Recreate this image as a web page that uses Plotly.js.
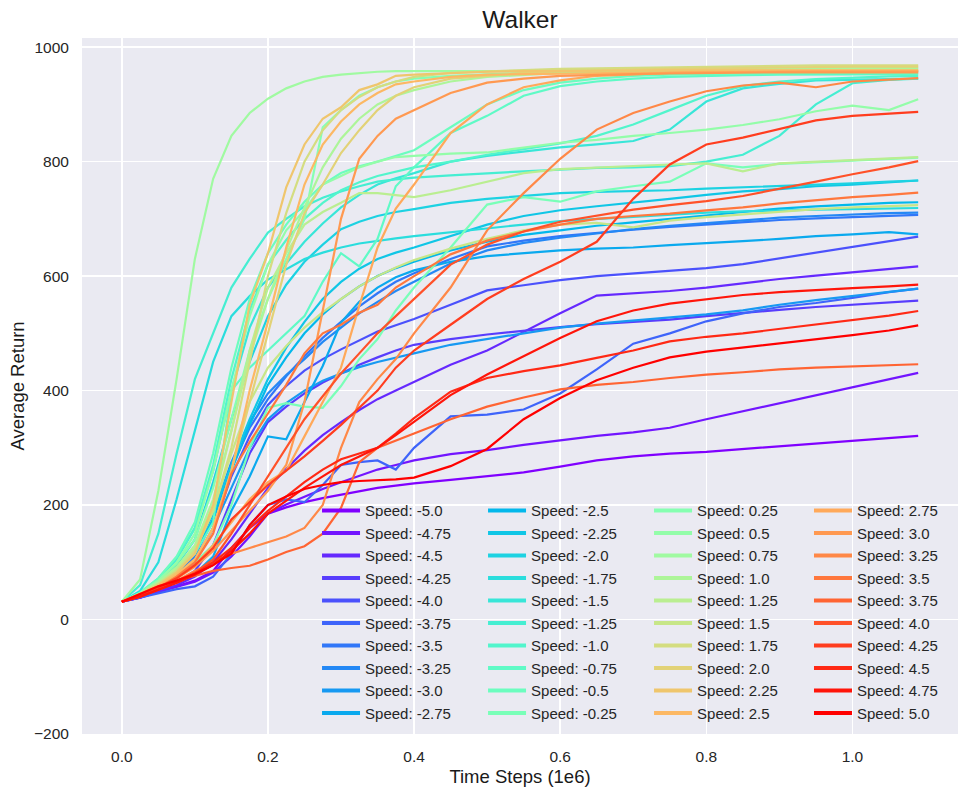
<!DOCTYPE html>
<html>
<head>
<meta charset="utf-8">
<script src="https://cdn.plot.ly/plotly-3.0.1.min.js"></script>
<style>
  html, body { margin: 0; padding: 0; background: #fff; }
  #chart { width: 969px; height: 796px; }
</style>
</head>
<body>
<div id="chart"></div>
<script>
// time steps (1e6)
const steps = [0, 0.025, 0.05, 0.075, 0.1, 0.125, 0.15, 0.175, 0.2, 0.225, 0.25, 0.275, 0.3, 0.325, 0.35, 0.375, 0.4, 0.45, 0.5, 0.55, 0.6, 0.65, 0.7, 0.75, 0.8, 0.85, 0.9, 0.95, 1.0, 1.05, 1.09];

const speedLabels = ['-5.0', '-4.75', '-4.5', '-4.25', '-4.0', '-3.75', '-3.5', '-3.25', '-3.0', '-2.75',
  '-2.5', '-2.25', '-2.0', '-1.75', '-1.5', '-1.25', '-1.0', '-0.75', '-0.5', '-0.25',
  '0.25', '0.5', '0.75', '1.0', '1.25', '1.5', '1.75', '2.0', '2.25', '2.5',
  '2.75', '3.0', '3.25', '3.5', '3.75', '4.0', '4.25', '4.5', '4.75', '5.0'];

// average return per speed
const retM500 = [31,38,48,58,68,85,125,160,185,196,205,212,218,224,230,234,238,244,250,257,267,278,285,290,293,298,303,308,313,317,321];
const retM475 = [31,38,48,57,66,82,110,145,185,201,215,228,240,251,262,270,278,289,296,305,313,321,327,335,350,364,378,393,407,421,431];
const retM450 = [31,39,50,60,75,100,140,185,230,263,295,322,345,366,385,400,415,445,470,503,535,566,570,574,580,588,595,601,607,612,617];
const retM425 = [31,40,52,65,85,130,210,290,345,372,395,414,430,445,458,470,480,490,498,505,511,516,520,524,530,536,541,546,550,554,557];
const retM400 = [31,40,55,72,100,160,250,320,375,408,435,455,472,488,503,514,525,550,575,584,593,600,605,609,614,621,631,641,650,660,669];
const retM375 = [31,38,46,53,58,75,115,165,200,210,205,235,270,275,278,262,300,355,358,367,395,437,482,500,521,535,546,553,562,572,578];
const retM350 = [31,42,58,80,110,175,265,335,385,425,460,492,520,547,570,590,605,630,652,662,670,676,681,686,690,695,698,701,703,705,707];
const retM325 = [31,43,60,85,120,185,275,345,395,427,455,485,510,535,555,574,590,622,645,658,667,675,682,688,693,698,702,705,708,710,711];
const retM300 = [31,42,58,78,105,160,230,300,350,378,400,417,430,441,450,458,465,480,490,500,510,517,522,527,533,540,550,558,565,572,578];
const retM275 = [31,40,52,65,80,110,190,250,320,315,380,443,519,555,580,598,610,625,635,640,645,648,650,654,657,661,665,670,673,677,673];
const retM250 = [31,42,58,82,115,175,260,340,410,458,500,533,560,582,600,614,625,645,660,672,680,688,694,700,706,712,718,722,725,728,729];
const retM225 = [31,42,60,85,120,185,270,350,420,475,520,560,590,613,630,641,650,670,690,705,715,722,728,735,742,748,752,757,760,764,767];
const retM200 = [31,45,65,95,140,240,350,450,530,585,625,655,682,695,705,712,717,728,735,740,745,747,748,750,753,755,757,760,762,765,767];
const retM175 = [31,50,100,210,330,450,530,565,594,612,630,641,650,657,662,666,670,677,684,690,696,700,704,708,711,713,715,716,717,718,719];
const retM150 = [31,46,70,105,160,260,400,510,580,622,660,692,720,742,760,771,780,800,810,818,825,830,836,856,905,928,936,942,943,944,945];
const retM125 = [31,60,150,290,420,500,580,630,676,700,722,737,748,757,765,769,772,776,780,783,786,789,790,792,800,812,845,900,937,943,945];
const retM100 = [31,47,72,108,160,270,420,540,620,663,700,728,750,764,775,783,790,800,812,822,832,845,865,890,915,932,940,944,947,949,950];
const retM075 = [31,45,63,85,115,170,400,440,470,500,530,590,640,617,665,757,790,850,880,915,932,940,945,948,950,951,952,952,953,953,953];
const retM050 = [31,47,72,110,170,290,440,560,640,690,730,760,780,792,800,810,820,860,900,925,938,945,950,952,953,954,955,955,955,956,956];
const retM025 = [31,45,62,80,100,130,200,300,370,378,372,370,408,455,490,540,580,650,725,738,730,748,757,765,797,790,796,799,802,805,807];
const retP025 = [31,46,68,98,140,230,350,470,560,630,700,860,890,915,930,940,945,950,953,955,956,957,957,957,958,958,958,958,958,958,958];
const retP050 = [31,46,68,100,150,260,400,530,620,680,715,760,775,790,800,808,810,814,816,825,833,838,845,850,856,864,874,888,898,890,909];
const retP075 = [31,70,225,420,630,770,845,885,910,928,940,948,952,955,957,958,958,957,957,958,960,960,961,962,962,962,963,963,964,964,964];
const retP100 = [31,45,65,92,130,210,330,460,560,645,720,790,840,875,900,915,925,940,948,952,955,957,958,959,960,960,961,961,962,962,962];
const retP125 = [31,44,62,88,125,200,330,470,580,640,690,712,728,745,745,742,738,750,765,780,787,790,792,795,797,783,797,800,803,806,808];
const retP150 = [31,44,60,85,120,190,290,380,440,478,510,537,560,582,600,615,628,648,665,680,690,693,685,697,703,708,713,717,720,722,724];
const retP175 = [31,45,62,85,120,190,300,450,600,710,800,855,890,913,930,940,948,955,958,960,962,963,964,965,966,967,967,968,968,968,968];
const retP200 = [31,43,58,78,105,160,260,380,500,620,710,760,815,855,890,915,930,945,950,955,958,960,961,962,963,964,965,965,966,966,966];
const retP225 = [31,44,60,82,115,200,380,550,640,755,830,875,895,925,935,950,952,955,957,958,958,959,959,960,960,960,960,960,960,960,960];
const retP250 = [31,43,58,78,105,160,260,400,520,650,760,830,870,900,920,935,940,948,952,953,954,955,956,956,957,957,957,958,958,958,958];
const retP275 = [31,42,55,72,95,130,170,210,240,260,320,380,440,548,650,718,760,850,900,930,942,950,953,955,956,957,957,958,958,958,958];
const retP300 = [31,42,55,72,92,120,155,190,225,270,380,540,700,805,845,875,890,920,938,945,950,952,953,954,955,955,956,956,956,956,956];
const retP325 = [31,41,53,68,85,100,115,125,135,145,160,200,300,380,420,455,500,580,680,745,805,856,885,905,923,933,938,930,940,943,946];
const retP350 = [31,40,55,75,100,150,255,310,360,410,465,500,515,536,550,580,600,638,662,678,690,700,705,709,715,720,727,733,738,742,746];
const retP375 = [31,45,58,68,77,85,90,94,105,118,128,150,195,275,300,312,325,350,372,388,402,410,415,422,428,432,437,440,442,444,446];
const retP400 = [31,40,52,66,82,105,150,200,250,300,350,390,430,465,500,530,560,620,655,678,695,705,716,724,731,740,752,765,778,790,801];
const retP425 = [31,42,55,72,95,125,175,205,235,260,285,312,340,370,400,440,470,515,560,595,625,660,735,795,830,842,857,872,880,884,887];
const retP450 = [31,40,52,65,80,100,125,160,190,215,240,262,280,290,300,325,352,398,422,434,444,457,470,486,494,500,508,516,523,531,539];
const retP475 = [31,40,52,64,78,95,120,150,185,208,230,250,270,285,300,322,345,392,428,460,492,521,540,552,560,567,572,576,579,582,585];
const retP500 = [31,45,58,68,80,95,115,165,200,215,228,235,240,242,243,245,248,268,298,350,387,418,440,458,468,475,482,490,497,505,514];

const returns = [retM500, retM475, retM450, retM425, retM400, retM375, retM350, retM325, retM300, retM275,
  retM250, retM225, retM200, retM175, retM150, retM125, retM100, retM075, retM050, retM025,
  retP025, retP050, retP075, retP100, retP125, retP150, retP175, retP200, retP225, retP250,
  retP275, retP300, retP325, retP350, retP375, retP400, retP425, retP450, retP475, retP500];

// matplotlib "rainbow" colormap
function rainbow(x) {
  const clip = v => Math.max(0, Math.min(1, v));
  const r = clip(Math.abs(2 * x - 0.5));
  const g = clip(Math.sin(Math.PI * x));
  const b = clip(Math.cos(Math.PI * x / 2));
  return `rgb(${Math.round(r * 255)},${Math.round(g * 255)},${Math.round(b * 255)})`;
}

const n = returns.length;
const colors = returns.map((_, i) => rainbow(i / (n - 1)));
const legendIds = ['legend', 'legend2', 'legend3', 'legend4'];

const traces = returns.map((ys, i) => ({
  x: steps,
  y: ys,
  type: 'scatter',
  mode: 'lines',
  line: { color: colors[i], width: 2.2 },
  showlegend: false,
  hoverinfo: 'skip'
}));

// legend handles (thicker lines, 4 columns of 10)
speedLabels.forEach((s, i) => {
  traces.push({
    x: [null],
    y: [null],
    type: 'scatter',
    mode: 'lines',
    name: 'Speed: ' + s,
    line: { color: colors[i], width: 4.2 },
    legend: legendIds[Math.floor(i / 10)],
    hoverinfo: 'skip'
  });
});

const legendCols = [0.2683, 0.4578, 0.6473, 0.8299];
const legendBase = {
  y: 0.3445,
  xanchor: 'left',
  yanchor: 'top',
  bgcolor: 'rgba(0,0,0,0)',
  borderwidth: 0,
  itemwidth: 38,
  font: { size: 15, color: '#262626' },
  tracegroupgap: 0
};

const layout = {
  width: 969,
  height: 796,
  margin: { l: 82, r: 11, t: 38, b: 62 },
  paper_bgcolor: '#ffffff',
  plot_bgcolor: '#EAEAF2',
  font: { family: 'Liberation Sans, Arial, sans-serif', color: '#262626' },
  title: {
    text: 'Walker',
    font: { size: 24.5, color: '#1a1a1a' },
    x: 0.5,
    xref: 'paper',
    y: 0.975,
    yref: 'container',
    yanchor: 'middle'
  },
  xaxis: {
    range: [-0.0545, 1.1445],
    tickvals: [0, 0.2, 0.4, 0.6, 0.8, 1.0],
    ticktext: ['0.0', '0.2', '0.4', '0.6', '0.8', '1.0'],
    showgrid: true,
    gridcolor: '#ffffff',
    gridwidth: 1.4,
    zeroline: false,
    showline: false,
    ticks: 'outside',
    ticklen: 8,
    tickcolor: 'rgba(0,0,0,0)',
    tickfont: { size: 15.5, color: '#262626' },
    title: { text: 'Time Steps (1e6)', font: { size: 18.5, color: '#1a1a1a' }, standoff: 6 }
  },
  yaxis: {
    range: [-200, 1016],
    tickvals: [-200, 0, 200, 400, 600, 800, 1000],
    showgrid: true,
    gridcolor: '#ffffff',
    gridwidth: 1.4,
    zeroline: false,
    showline: false,
    ticks: 'outside',
    ticklen: 9,
    tickcolor: 'rgba(0,0,0,0)',
    tickfont: { size: 15.5, color: '#262626' },
    title: { text: 'Average Return', font: { size: 18.5, color: '#1a1a1a' }, standoff: 4 }
  },
  showlegend: true
};

legendIds.forEach((id, k) => {
  layout[id] = Object.assign({}, legendBase, { x: legendCols[k] });
});

Plotly.newPlot('chart', traces, layout, { displayModeBar: false, staticPlot: true });
</script>
</body>
</html>
